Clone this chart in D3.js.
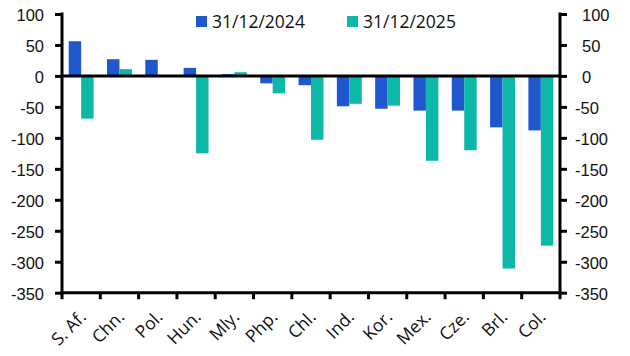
<!DOCTYPE html>
<html><head><meta charset="utf-8">
<script src="https://cdn.jsdelivr.net/npm/d3@7"></script>
<style>html,body{margin:0;padding:0;background:#fff;}svg{display:block;font-family:"Open Sans",sans-serif;}</style>
</head><body><svg id="c" width="630" height="356"></svg>
<script>
const categories = ["S. Af.","Chn.","Pol.","Hun.","Mly.","Php.","Chl.","Ind.","Kor.","Mex.","Cze.","Brl.","Col."];
const series2024 = [56, 27, 26, 13, 3, -12, -15, -49, -53, -56, -56, -83, -88];
const series2025 = [-69, 11, 0, -125, 6, -28, -103, -45, -48, -137, -120, -311, -274];
const seriesNames = ["31/12/2024", "31/12/2025"];
const seriesColors = ["#1f57cc", "#0db8a9"];
const yTicks = [100, 50, 0, -50, -100, -150, -200, -250, -300, -350];

const svg = d3.select("#c");
const L = 62, R = 560, T = 14, B = 292.7;
const x = d3.scaleBand().domain(categories).range([L, R]).paddingInner(0.35).paddingOuter(0.175);
const xs = d3.scaleBand().domain(seriesNames).range([0, x.bandwidth()]);
const y = d3.scaleLinear().domain([-350, 100]).range([B, T]);
const data = [series2024, series2025];

// bars
seriesNames.forEach((s, si) => {
  svg.append("g").selectAll("rect").data(categories).join("rect")
    .attr("x", c => x(c) + xs(s))
    .attr("width", xs.bandwidth())
    .attr("y", (c, i) => y(Math.max(0, data[si][i])))
    .attr("height", (c, i) => Math.abs(y(data[si][i]) - y(0)))
    .attr("fill", seriesColors[si]);
});

// zero line
svg.append("line").attr("x1", L).attr("x2", R).attr("y1", y(0)).attr("y2", y(0))
  .attr("stroke", "#000").attr("stroke-width", 3);

// left axis
const leftAxis = d3.axisLeft(y).tickValues(yTicks).tickSize(7).tickPadding(11)
  .tickFormat(d => d < 0 ? "-" + Math.abs(d) : String(d));
const gl = svg.append("g").attr("transform", `translate(${L},0)`).call(leftAxis);
gl.select(".domain").attr("stroke", "#000").attr("stroke-width", 3).attr("d", `M0,${T-1.5}V${B+1.5}`);
gl.selectAll(".tick line").attr("stroke", "#000").attr("stroke-width", 3);
gl.selectAll(".tick text").attr("font-size", 16.5).attr("fill", "#111").attr("dy", "0.4em");

// right axis
const rightAxis = d3.axisRight(y).tickValues(yTicks).tickSize(7).tickPadding(13)
  .tickFormat(d => d < 0 ? "-" + Math.abs(d) : String(d));
const gr = svg.append("g").attr("transform", `translate(${R},0)`).call(rightAxis);
gr.select(".domain").attr("stroke", "#000").attr("stroke-width", 3).attr("d", `M0,${T-1.5}V${B+1.5}`);
gr.selectAll(".tick line").attr("stroke", "#000").attr("stroke-width", 3);
gr.selectAll(".tick text").attr("font-size", 16.5).attr("fill", "#111").attr("dy", "0.4em")
  .attr("x", d => d < 0 ? 15 : 22);

// bottom axis line and boundary ticks
svg.append("line").attr("x1", L - 1.5).attr("x2", R + 1.5).attr("y1", B).attr("y2", B)
  .attr("stroke", "#000").attr("stroke-width", 3);
const bounds = categories.map(c => x(c) - x.step() * x.paddingInner() / 2);
bounds.push(R);
svg.append("g").selectAll("line").data(bounds).join("line")
  .attr("x1", d => d).attr("x2", d => d).attr("y1", B).attr("y2", B + 6.5)
  .attr("stroke", "#000").attr("stroke-width", 3);

// x labels
svg.append("g").selectAll("text").data(categories).join("text")
  .attr("transform", c => `translate(${x(c) + x.bandwidth() / 2 + 6},318) rotate(-45)`)
  .attr("text-anchor", "end").attr("font-size", 17.5).attr("fill", "#111")
  .text(c => c);

// legend
const legX = [196, 347];
seriesNames.forEach((s, i) => {
  svg.append("rect").attr("x", legX[i]).attr("y", 16).attr("width", 11).attr("height", 11).attr("fill", seriesColors[i]);
  svg.append("text").attr("x", legX[i] + 16).attr("y", 27.5).attr("font-size", 17.5).attr("fill", "#111").text(s);
});
</script></body></html>
